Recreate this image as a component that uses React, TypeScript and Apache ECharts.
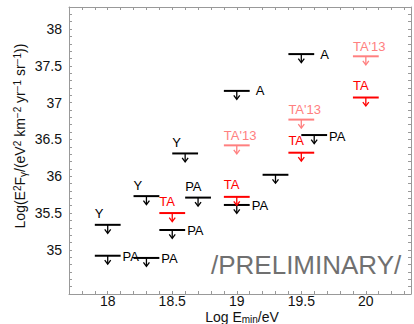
import React, { useEffect, useRef } from "react";
import * as echarts from "echarts";

// ---- data ----
const blackX = [18.0, 18.0, 18.3, 18.3, 18.5, 18.6, 18.7, 19.0, 19.0, 19.3, 19.5, 19.6];
const blackY = [35.34, 34.92, 35.73, 34.89, 35.27, 36.31, 35.71, 35.61, 37.16, 36.02, 37.66, 36.56];
const blackLabels = ["Y", "PA", "Y", "PA", "PA", "Y", "PA", "PA", "A", "", "A", "PA"];
const blackLabelSide = ["tl", "r", "tl", "r", "r", "tl", "tl", "r", "rr", "r", "rr", "r"];

const taX = [18.5, 19.0, 19.5, 20.0];
const taY = [35.5, 35.72, 36.32, 37.07];
const taLabels = ["TA", "TA", "TA", "TA"];
const taLabelSide = ["tl", "tl", "tl", "tl"];

const ta13X = [19.0, 19.5, 20.0];
const ta13Y = [36.42, 36.77, 37.63];
const ta13Labels = ["TA'13", "TA'13", "TA'13"];
const ta13LabelSide = ["tl", "tl", "tl"];

const xTickLabels = [18, 18.5, 19, 19.5, 20];
const yTickLabels = [35, 35.5, 36, 36.5, 37, 37.5, 38];

const xMin = 17.7;
const xMax = 20.35;
const yMin = 34.4;
const yMax = 38.3;
const minorStep = 0.1;

const FONT = "'Liberation Sans', Arial, Helvetica, sans-serif";
const AXIS_COLOR = "#999";
const HALF_WIDTH = 0.1; // half the width of each limit bar, in x-units

function pickLabel(list: number[]) {
  return (v: number) => {
    const hit = list.find((t) => Math.abs(t - v) < 1e-6);
    return hit === undefined ? "" : String(hit);
  };
}

function makeRender(labels: string[], sides: string[], color: string, gap: number) {
  return (params: any, api: any) => {
    const i = params.dataIndex;
    const x = api.value(0);
    const y = api.value(1);
    const l = api.coord([x - HALF_WIDTH, y]);
    const r = api.coord([x + HALF_WIDTH, y]);
    const c = api.coord([x, y]);
    const children: any[] = [
      {
        type: "line",
        shape: { x1: l[0], y1: l[1], x2: r[0], y2: r[1] },
        style: { stroke: color, lineWidth: 2 },
      },
      {
        type: "line",
        shape: { x1: c[0], y1: c[1], x2: c[0], y2: c[1] + 8 },
        style: { stroke: color, lineWidth: 1.3 },
      },
      {
        type: "polyline",
        shape: {
          points: [
            [c[0] - 3, c[1] + 4.5],
            [c[0], c[1] + 8.5],
            [c[0] + 3, c[1] + 4.5],
          ],
        },
        style: { stroke: color, lineWidth: 1.3, fill: null },
      },
    ];
    const text = labels[i];
    if (text) {
      const side = sides[i];
      let tx = l[0];
      let ty = c[1] - gap;
      let va = "bottom";
      if (side === "r") {
        tx = r[0] + 2;
        ty = c[1] + 1;
        va = "middle";
      } else if (side === "rr") {
        tx = r[0] + 6;
        ty = c[1];
        va = "middle";
      }
      children.push({
        type: "text",
        x: tx,
        y: ty,
        style: {
          text,
          fill: color,
          font: `13px ${FONT}`,
          textAlign: "left",
          textVerticalAlign: va,
        },
      });
    }
    return { type: "group", children };
  };
}

export default function App() {
  const ref = useRef<HTMLDivElement>(null);
  useEffect(() => {
    if (!ref.current) return;
    const chart = echarts.init(ref.current, undefined, { renderer: "svg" });

    const baseX = {
      type: "value",
      min: xMin,
      max: xMax,
      interval: minorStep,
      splitLine: { show: false },
      axisLine: { show: true, onZero: false, lineStyle: { color: AXIS_COLOR, width: 1 } },
      axisTick: { show: true, inside: true, length: 3, lineStyle: { color: AXIS_COLOR } },
    };
    const baseY = {
      type: "value",
      min: yMin,
      max: yMax,
      interval: minorStep,
      splitLine: { show: false },
      axisLine: { show: true, onZero: false, lineStyle: { color: AXIS_COLOR, width: 1 } },
      axisTick: { show: true, inside: true, length: 3, lineStyle: { color: AXIS_COLOR } },
    };

    const sup = { fontSize: 10, lineHeight: 10, verticalAlign: "top", fontFamily: FONT, fill: "#111" };
    const sub = { fontSize: 10, lineHeight: 8, verticalAlign: "bottom", fontFamily: FONT, fill: "#111" };
    const main = { fontSize: 14, lineHeight: 16, fontFamily: FONT, fill: "#111" };

    chart.setOption({
      animation: false,
      backgroundColor: "#fff",
      grid: { left: 69, top: 7, right: 0, bottom: 30, containLabel: false },
      xAxis: [
        {
          ...baseX,
          position: "bottom",
          axisLabel: {
            show: true,
            margin: 0,
            fontSize: 14,
            lineHeight: 14,
            fontFamily: FONT,
            color: "#111",
            formatter: pickLabel(xTickLabels),
          },
        },
        { ...baseX, position: "top", axisLabel: { show: false } },
      ],
      yAxis: [
        {
          ...baseY,
          position: "left",
          axisLabel: {
            show: true,
            margin: 7,
            fontSize: 14,
            fontFamily: FONT,
            color: "#111",
            formatter: pickLabel(yTickLabels),
          },
        },
        { ...baseY, position: "right", axisLabel: { show: false } },
      ],
      graphic: [
        {
          type: "text",
          x: 20,
          y: 136,
          rotation: Math.PI / 2,
          style: {
            text:
              "{a|Log(E}{s|2}{a|F}{b|γ}{a|/(eV}{s|2}{a| km}{s|−2}{a| yr}{s|−1}{a| sr}{s|−1}{a|))}",
            rich: { a: main, s: sup, b: sub },
            textAlign: "center",
            textVerticalAlign: "middle",
          },
        },
        {
          type: "text",
          x: 242,
          y: 317,
          style: {
            text: "{a|Log E}{b|min}{a|/eV}",
            rich: { a: { ...main, lineHeight: 14 }, b: { ...sub, lineHeight: 7 } },
            textAlign: "center",
            textVerticalAlign: "middle",
          },
        },
        {
          type: "text",
          x: 211,
          y: 265,
          style: {
            text: "/PRELIMINARY/",
            font: `26px ${FONT}`,
            fill: "#707070",
            textAlign: "left",
            textVerticalAlign: "middle",
          },
        },
      ],
      series: [
        {
          type: "custom",
          name: "other",
          clip: false,
          data: blackX.map((x, i) => [x, blackY[i]]),
          renderItem: makeRender(blackLabels, blackLabelSide, "#000", 4.5),
        },
        {
          type: "custom",
          name: "TA'13",
          clip: false,
          data: ta13X.map((x, i) => [x, ta13Y[i]]),
          renderItem: makeRender(ta13Labels, ta13LabelSide, "#ff8080", 3.5),
        },
        {
          type: "custom",
          name: "TA",
          clip: false,
          data: taX.map((x, i) => [x, taY[i]]),
          renderItem: makeRender(taLabels, taLabelSide, "#ff0000", 5.5),
        },
      ],
    });
    return () => chart.dispose();
  }, []);
  return <div ref={ref} style={{ width: 414, height: 324, position: "absolute", left: 0, top: 0 }} />;
}
